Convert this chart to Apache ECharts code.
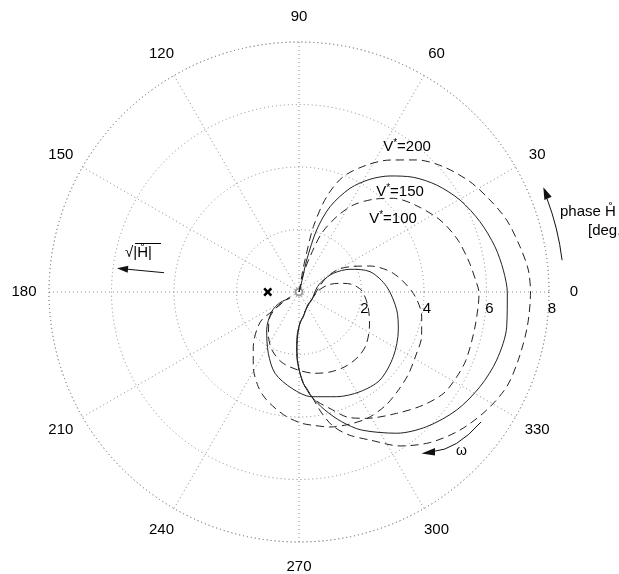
<!DOCTYPE html>
<html><head><meta charset="utf-8">
<script src="https://cdn.jsdelivr.net/npm/echarts@6/dist/echarts.min.js"></script>
<style>html,body{margin:0;padding:0;background:#fff}#c{width:619px;height:574px}</style>
</head><body><div id="c"></div>
<script>
// tick labels
const angleTickLabels = [0, 30, 60, 90, 120, 150, 180, 210, 240, 270, 300, 330];
const radiusTickLabels = [2, 4, 6, 8];
const seriesNames = ['V*=100', 'V*=150', 'V*=200'];

// [sqrt|H|, phase (deg)]
const v100 = [[0,76],[0.264,76],[0.660,76.0],[1.183,72.7],[2.014,68.9],[2.695,63.4],[3.282,58.0],[3.801,51.3],[4.254,44.8],[4.640,36.9],[5.066,27.1],[5.331,18.8],[5.513,10.7],[5.693,2.8],[5.760,-0.2],[5.741,-11.2],[5.770,-22.2],[5.728,-28.7],[5.654,-34.9],[5.376,-42.3],[4.984,-51.2],[4.586,-61.8],[4.323,-68.3],[3.858,-75.1],[3.572,-80.2],[3.375,-83.1],[2.925,-87.3],[2.592,-89.3],[2.272,-91.2],[1.857,-92.0],[1.441,-91.9],[0.992,-88.2],[0.794,-80.7],[0.544,-61.9],[0.475,-32.6],[0.609,3.0],[0.955,13.6],[1.341,12.0],[1.713,8.1],[2.016,0.9],[2.257,-12.0],[2.491,-25.1],[2.734,-38.3],[2.809,-47.8],[2.807,-58.4],[2.745,-68.8],[2.651,-78.9],[2.496,-90.7],[2.320,-103.6],[2.047,-115.0],[1.687,-125.4],[1.313,-137.0],[0.941,-144.7],[0.604,-148.0],[0.329,-151]];
const v150 = [[0,75],[0.233,74],[0.528,76],[1.053,76.5],[2.063,74.1],[2.905,70.0],[3.698,63.8],[4.262,57.8],[4.718,51.9],[5.182,45.1],[5.580,37.8],[5.934,29.7],[6.214,21.2],[6.437,13.0],[6.576,6.1],[6.666,-0.2],[6.739,-9.5],[6.690,-19.0],[6.537,-27.6],[6.303,-36.8],[5.939,-46.5],[5.497,-55.3],[4.851,-65.6],[4.369,-71.8],[3.867,-77.6],[3.375,-83.1],[2.925,-87.3],[2.602,-89.3],[2.282,-91.0],[1.857,-92.3],[1.432,-92.6],[0.992,-88.2],[0.802,-80.1],[0.544,-61.9],[0.480,-32.2],[0.581,12.7],[0.798,24.4],[1.250,28.6],[1.786,24.0],[2.363,16.0],[2.812,3.5],[3.179,-10.4],[3.402,-20.9],[3.660,-34.5],[3.827,-47.4],[3.740,-58.5],[3.561,-70.2],[3.375,-83.1],[3.090,-94.3],[2.713,-106.4],[2.194,-116.6],[1.596,-130.4],[1.077,-144.2],[0.698,-150.6],[0.352,-145]];
const v200 = [[0,80],[0.26,79.4],[0.650,80.1],[1.042,79.4],[2.139,77.6],[3.176,73.8],[3.953,69.0],[4.605,61.9],[5.130,55.4],[5.660,48.3],[6.115,41.0],[6.512,32.8],[6.784,25.7],[7.034,19.1],[7.219,11.6],[7.372,5.5],[7.408,0],[7.389,-8.6],[7.347,-17.2],[7.305,-24.5],[7.094,-32.2],[6.787,-40.6],[6.385,-49.0],[5.894,-56.7],[5.252,-64.4],[4.848,-70.7],[4.424,-75.8],[3.904,-79.6],[3.386,-82.9],[2.915,-87.2],[2.592,-89.3],[2.272,-90.8],[1.857,-92.0],[1.441,-91.9],[0.992,-88.2],[0.781,-79.4],[0.516,-60.3],[0.472,-28.3],[0.615,9.0],[0.973,27.4],[1.441,30.0],[1.882,25.7],[2.419,20.1],[3.076,11.2],[3.658,-0.7],[4.005,-11.4],[4.173,-20.0],[4.252,-28.3],[4.384,-37.3],[4.480,-45.6],[4.570,-53.0],[4.596,-61.7],[4.521,-69.7],[4.432,-77.1],[4.303,-83.2],[4.202,-88.8],[4.010,-95.6],[3.791,-101.7],[3.562,-107.8],[3.298,-113.3],[2.802,-121.5],[2.281,-129.9],[1.820,-138.1],[1.492,-143.1],[1.077,-144.2],[0.661,-146.8],[0.373,-149]];
const poleMarker = [[1, 180]];
const originMarker = [[0, 0]];

const FONT = "'Liberation Sans', Arial, Helvetica, sans-serif";
const LABEL_RADIUS = 8.8; // angle labels sit just outside the r = 8 ring
const norm = pts => pts.map(([r, ph]) => [r, ((ph % 360) + 360) % 360]);
const gridLine = {color: '#8a8a8a', width: 1, type: [1, 3]};
const curveColor = '#222';

const rich = {
  v: {fontSize: 15, fontFamily: FONT, color: '#000', lineHeight: 18},
  s: {fontSize: 10, fontFamily: FONT, color: '#000', verticalAlign: 'top', lineHeight: 9}
};
function vLabel(name, x, y) {
  const rest = name.replace('V*', '');
  return {type: 'text', x: x, y: y, z: 100,
    style: {text: '{v|V}{s|*}{v|' + rest + '}', rich: rich, align: 'center', verticalAlign: 'middle'}};
}
const txt = (t, x, y, extra) => ({type: 'text', x: x, y: y, z: 100,
  style: Object.assign({text: t, fontSize: 15, fontFamily: FONT, fill: '#000', align: 'left', verticalAlign: 'middle'}, extra || {})});

const chart = echarts.init(document.getElementById('c'), null, {renderer: 'canvas'});
chart.setOption({
  animation: false,
  backgroundColor: '#fff',
  polar: {center: [299, 292], radius: 250},
  angleAxis: {
    type: 'value', min: 0, max: 360, interval: 30, startAngle: 0, clockwise: false,
    axisLine: {show: true, lineStyle: gridLine},
    axisTick: {show: false},
    axisLabel: {show: false},
    splitLine: {show: true, lineStyle: gridLine}
  },
  radiusAxis: {
    type: 'value', min: 0, max: 8, interval: 2,
    axisLine: {show: false}, axisTick: {show: false},
    axisLabel: {margin: -24, fontSize: 15, fontFamily: FONT, color: '#000', padding: [0, 0, 0, 6],
      formatter: v => radiusTickLabels.includes(v) ? String(v) : ''},
    splitLine: {show: true, lineStyle: gridLine}
  },
  series: [
    {name: seriesNames[0], type: 'line', coordinateSystem: 'polar', data: norm(v100), showSymbol: false, smooth: 0.3,
      lineStyle: {color: curveColor, width: 1, type: [8, 5]}},
    {name: seriesNames[1], type: 'line', coordinateSystem: 'polar', data: norm(v150), showSymbol: false, smooth: 0.3,
      lineStyle: {color: curveColor, width: 1}},
    {name: seriesNames[2], type: 'line', coordinateSystem: 'polar', data: norm(v200), showSymbol: false, smooth: 0.3,
      lineStyle: {color: curveColor, width: 1, type: [8, 5]}},
    {type: 'scatter', coordinateSystem: 'polar', data: poleMarker,
      symbol: 'path://M2,0L5,3L8,0L10,2L7,5L10,8L8,10L5,7L2,10L0,8L3,5L0,2Z', symbolSize: 9,
      itemStyle: {color: '#000', opacity: 1}},
    {type: 'scatter', coordinateSystem: 'polar', data: originMarker, symbol: 'emptyCircle', symbolSize: 7,
      itemStyle: {color: '#999', borderWidth: 1, opacity: 1}},
    // angle tick labels, centred on a ring just outside the plot
    {type: 'scatter', coordinateSystem: 'polar', silent: true, clip: false, symbol: 'circle', symbolSize: 1,
      itemStyle: {color: 'rgba(0,0,0,0)', opacity: 1},
      data: angleTickLabels.map(a => [LABEL_RADIUS, a]),
      label: {show: true, position: 'inside', fontSize: 15, fontFamily: FONT, color: '#000', opacity: 1,
        textBorderWidth: 0, formatter: p => String(p.value[1])},
      labelLayout: {hideOverlap: false}}
  ],
  graphic: [
    vLabel(seriesNames[2], 407, 147),
    vLabel(seriesNames[1], 400, 192),
    vLabel(seriesNames[0], 393, 219),
    // phase arrow
    {type: 'arc', z: 100, shape: {cx: 299, cy: 292, r: 265, startAngle: -6.9 * Math.PI / 180, endAngle: -20.6 * Math.PI / 180, clockwise: false},
      style: {stroke: '#111', fill: 'none', lineWidth: 1}},
    {type: 'polygon', z: 100, shape: {points: [[543.3, 187.3], [551.7, 196.7], [544.4, 199.9]]}, style: {fill: '#111'}},
    txt('phase H\u030A', 560, 212),
    txt('[deg.]', 588, 231),
    // sqrt|H| arrow
    txt('\u221A|H\u030A|', 125, 253),
    {type: 'line', z: 100, shape: {x1: 135, y1: 243.5, x2: 161, y2: 243.5}, style: {stroke: '#000', lineWidth: 1}},
    {type: 'line', z: 100, shape: {x1: 164, y1: 272.7, x2: 127, y2: 269.2}, style: {stroke: '#111', lineWidth: 1}},
    {type: 'polygon', z: 100, shape: {points: [[117, 268.3], [128.3, 265.8], [127.7, 272.8]]}, style: {fill: '#111'}},
    // omega arrow
    {type: 'bezierCurve', z: 100, shape: {x1: 481, y1: 422, cpx1: 456.4, cpy1: 449.9, x2: 433, y2: 451.5},
      style: {stroke: '#111', fill: 'none', lineWidth: 1}},
    {type: 'polygon', z: 100, shape: {points: [[421.5, 453.5], [435, 448], [435, 455.5]]}, style: {fill: '#111'}},
    txt('\u03C9', 456, 451, {fontSize: 14})
  ]
});
</script>
</body></html>
